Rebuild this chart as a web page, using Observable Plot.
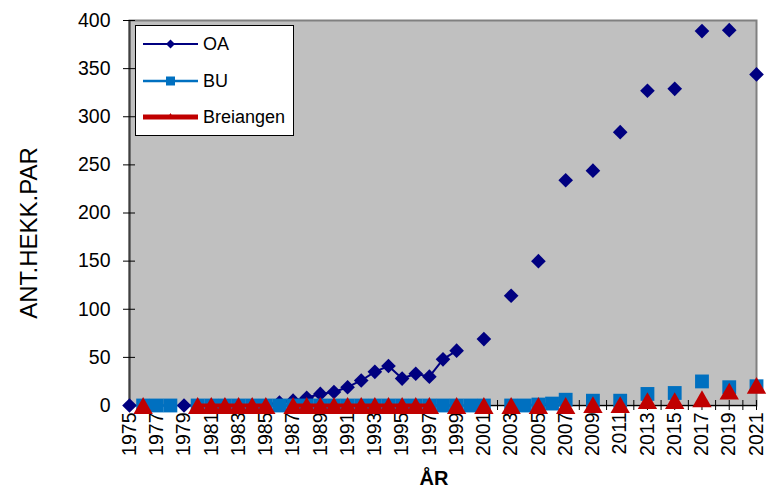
<!DOCTYPE html>
<html><head><meta charset="utf-8">
<script src="https://cdn.jsdelivr.net/npm/d3@7"></script>
<script src="https://cdn.jsdelivr.net/npm/@observablehq/plot@0.6"></script>
<style>
body{margin:0;background:#fff;font-family:"Liberation Sans",Arial,sans-serif;}
#wrap{position:relative;width:768px;height:495px;}
#legend{position:absolute;left:135px;top:25px;width:157px;height:109px;border:1px solid #000;background:#fff;}
</style></head><body><div id="wrap"></div>
<script>
// ---- data ----
const allYears = [1975,1976,1977,1978,1979,1980,1981,1982,1983,1984,1985,1986,1987,1988,1989,1990,1991,1992,1993,1994,1995,1996,1997,1998,1999,2000,2001,2002,2003,2004,2005,2006,2007,2008,2009,2010,2011,2012,2013,2014,2015,2016,2017,2018,2019,2020,2021];
const labelYears = [1975,1977,1979,1981,1983,1985,1987,1989,1991,1993,1995,1997,1999,2001,2003,2005,2007,2009,2011,2013,2015,2017,2019,2021];
const yTicks = [0,50,100,150,200,250,300,350,400];

const oaYears  = [1975,1979,1980,1981,1982,1983,1984,1985,1986,1987,1988,1989,1990,1991,1992,1993,1994,1995,1996,1997,1998,1999,2001,2003,2005,2007,2009,2011,2013,2015,2017,2019,2021];
const oaValues = [0,0,0,0,0,0,0,0,3,5,8,12,14,19,26,35,41,28,33,30,48,57,69,114,150,234,244,284,327,329,389,390,344];

const buYears  = [1976,1977,1978,1980,1981,1982,1983,1984,1985,1986,1987,1988,1989,1990,1991,1992,1993,1994,1995,1996,1997,1998,1999,2000,2001,2003,2004,2005,2006,2007,2009,2011,2013,2015,2017,2019,2021];
const buValues = [0,0,0,0,0,0,0,0,0,0,0,0,0,0,0,0,0,0,0,0,0,0,0,0,0,0,0,1,2,6,5,5,12,13,25,19,20];

const brYears  = [1976,1980,1981,1982,1983,1984,1985,1987,1988,1989,1990,1991,1992,1993,1994,1995,1996,1997,1999,2001,2003,2005,2007,2009,2011,2013,2015,2017,2019,2021];
const brValues = [0,0,0,0,0,0,0,0,0,0,0,0,0,0,0,0,0,0,0,0,0,0,0,1,1,5,5,7,15,21];

const seriesNames = ["OA","BU","Breiangen"];
const seriesColors = ["#000080","#0070C0","#C00000"];

function table(yrs, vals){
  const m = new Map(yrs.map((y,i)=>[y, vals[i]]));
  return allYears.map(y => ({year: y, value: m.has(y) ? m.get(y) : null}));
}
const oa = table(oaYears, oaValues);
const bu = table(buYears, buValues);
const br = table(brYears, brValues);

const chart = Plot.plot({
  width: 768, height: 495,
  marginLeft: 129, marginRight: 12, marginTop: 20, marginBottom: 90,
  style: {fontFamily: '"Liberation Sans", Arial, sans-serif', fontSize: "19.5px", background: "#fff", color: "#000"},
  x: {domain: [1975, 2021], label: null},
  y: {domain: [0, 400], label: null},
  marks: [
    Plot.frame({fill: "#C0C0C0"}),
    Plot.frame({stroke: "#808080", strokeWidth: 2}),
    Plot.ruleX([1975], {stroke: "#404040", strokeWidth: 2}),
    Plot.ruleY([0], {stroke: "#000", strokeWidth: 1}),
    Plot.axisX({ticks: allYears, tickSize: 10, dy: -5, tickFormat: () => "", stroke: "#000"}),
    Plot.axisX({ticks: labelYears, tickSize: 0, tickPadding: 7, tickRotate: -90, tickFormat: d => String(d)}),
    Plot.axisY({ticks: yTicks, tickSize: 12, dx: 6, tickFormat: () => "", stroke: "#000"}),
    Plot.axisY({ticks: yTicks, tickSize: 0, tickPadding: 19, tickFormat: d => String(d)}),
    Plot.line(oa, {x: "year", y: "value", stroke: seriesColors[0], strokeWidth: 2}),
    Plot.dot(oa, {x: "year", y: "value", symbol: "diamond2", r: 6.6, fill: seriesColors[0], stroke: "none"}),
    Plot.line(bu, {x: "year", y: "value", stroke: seriesColors[1], strokeWidth: 2.5}),
    Plot.dot(bu, {x: "year", y: "value", symbol: "square", r: 7.8, fill: seriesColors[1], stroke: "none"}),
    Plot.line(br, {x: "year", y: "value", stroke: seriesColors[2], strokeWidth: 4}),
    Plot.dot(br, {x: "year", y: "value", symbol: "triangle", r: 7.2, dy: 2.8, fill: seriesColors[2], stroke: "none"}),
    Plot.text(["ANT.HEKK.PAR"], {frameAnchor: "left", rotate: -90, dx: -100, dy: 20, fontSize: 24, textAnchor: "middle"}),
    Plot.text(["ÅR"], {frameAnchor: "bottom", dy: 79, fontSize: 20, fontWeight: "bold", textAnchor: "middle", dx: -9})
  ]
});
const wrap = document.getElementById("wrap");
wrap.appendChild(chart);

// legend (inside plot area)
const lg = document.createElement("div");
lg.id = "legend";
const ns = "http://www.w3.org/2000/svg";
const svg = document.createElementNS(ns, "svg");
svg.setAttribute("width", 157); svg.setAttribute("height", 109);
const rowsY = [18, 55, 91];
const lw = [2, 2.5, 5];
seriesNames.forEach((name, i) => {
  const y = rowsY[i];
  const l = document.createElementNS(ns, "line");
  l.setAttribute("x1", 7); l.setAttribute("x2", 62); l.setAttribute("y1", y); l.setAttribute("y2", y);
  l.setAttribute("stroke", seriesColors[i]); l.setAttribute("stroke-width", lw[i]);
  svg.appendChild(l);
  const p = document.createElementNS(ns, "path");
  let d;
  if (i === 0) d = `M34.5,${y-4.5}L39,${y}L34.5,${y+4.5}L30,${y}Z`;
  else if (i === 1) d = `M30,${y-4.5}h9v9h-9Z`;
  else d = `M34.5,${y-4}L38,${y+2}L31,${y+2}Z`;
  p.setAttribute("d", d); p.setAttribute("fill", seriesColors[i]);
  svg.appendChild(p);
  const t = document.createElementNS(ns, "text");
  t.setAttribute("x", 67); t.setAttribute("y", y);
  t.setAttribute("dominant-baseline", "central");
  t.setAttribute("font-size", "18px");
  t.setAttribute("font-family", '"Liberation Sans", Arial, sans-serif');
  t.textContent = name;
  svg.appendChild(t);
});
lg.appendChild(svg);
wrap.appendChild(lg);
</script>
</body></html>
